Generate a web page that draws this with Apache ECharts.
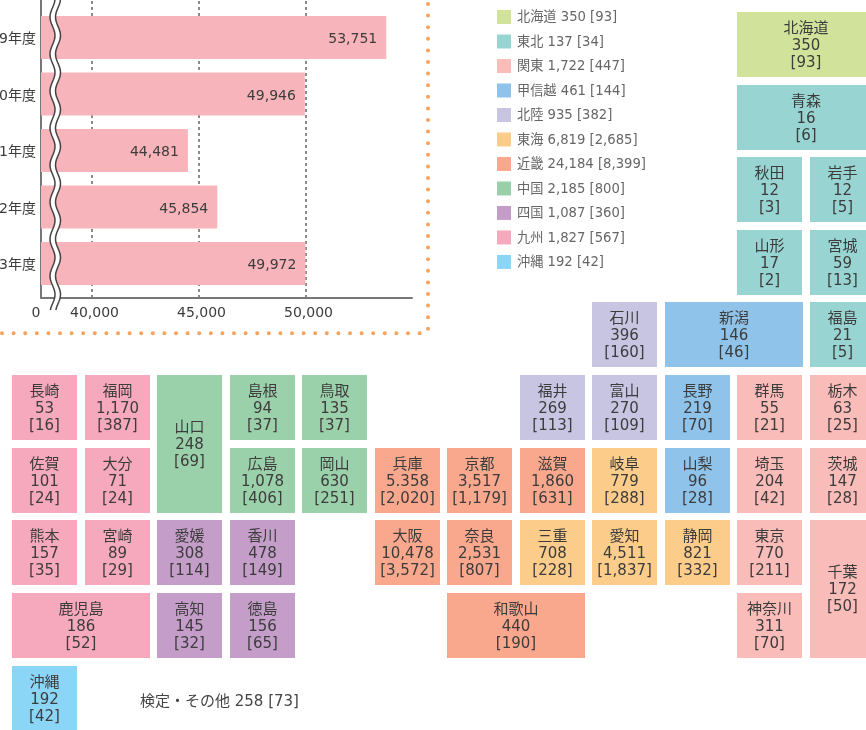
<!DOCTYPE html>
<html lang="ja">
<head>
<meta charset="utf-8">
<script src="https://cdn.jsdelivr.net/npm/echarts@6/dist/echarts.min.js"></script>
<style>html,body{margin:0;padding:0;background:#fff}#c{width:866px;height:730px}</style>
</head>
<body>
<div id="c"></div>
<script>
// ---- data ----
const yearLabels = ['9年度', '0年度', '1年度', '2年度', '3年度'];
const yearValues = [53751, 49946, 44481, 45854, 49972];
const axisTickValues = [40000, 45000, 50000];

const regionNames = ['北海道', '東北', '関東', '甲信越', '北陸', '東海', '近畿', '中国', '四国', '九州', '沖縄'];
const regionTotals = ['350', '137', '1,722', '461', '935', '6,819', '24,184', '2,185', '1,087', '1,827', '192'];
const regionBrackets = ['93', '34', '447', '144', '382', '2,685', '8,399', '800', '360', '567', '42'];

const prefByRegion = {
  '北海道': ['北海道'],
  '東北': ['青森', '秋田', '岩手', '山形', '宮城', '福島'],
  '関東': ['群馬', '栃木', '埼玉', '茨城', '東京', '千葉', '神奈川'],
  '甲信越': ['新潟', '長野', '山梨'],
  '北陸': ['石川', '福井', '富山'],
  '東海': ['岐阜', '三重', '愛知', '静岡'],
  '近畿': ['兵庫', '京都', '滋賀', '大阪', '奈良', '和歌山'],
  '中国': ['山口', '島根', '鳥取', '広島', '岡山'],
  '四国': ['愛媛', '香川', '高知', '徳島'],
  '九州': ['長崎', '福岡', '佐賀', '大分', '熊本', '宮崎', '鹿児島'],
  '沖縄': ['沖縄']
};
const prefTotals = {
  北海道:'350', 青森:'16', 秋田:'12', 岩手:'12', 山形:'17', 宮城:'59', 福島:'21',
  群馬:'55', 栃木:'63', 埼玉:'204', 茨城:'147', 東京:'770', 千葉:'172', 神奈川:'311',
  新潟:'146', 長野:'219', 山梨:'96', 石川:'396', 福井:'269', 富山:'270',
  岐阜:'779', 三重:'708', 愛知:'4,511', 静岡:'821',
  兵庫:'5.358', 京都:'3,517', 滋賀:'1,860', 大阪:'10,478', 奈良:'2,531', 和歌山:'440',
  山口:'248', 島根:'94', 鳥取:'135', 広島:'1,078', 岡山:'630',
  愛媛:'308', 香川:'478', 高知:'145', 徳島:'156',
  長崎:'53', 福岡:'1,170', 佐賀:'101', 大分:'71', 熊本:'157', 宮崎:'89', 鹿児島:'186', 沖縄:'192'
};
const prefBrackets = {
  北海道:'93', 青森:'6', 秋田:'3', 岩手:'5', 山形:'2', 宮城:'13', 福島:'5',
  群馬:'21', 栃木:'25', 埼玉:'42', 茨城:'28', 東京:'211', 千葉:'50', 神奈川:'70',
  新潟:'46', 長野:'70', 山梨:'28', 石川:'160', 福井:'113', 富山:'109',
  岐阜:'288', 三重:'228', 愛知:'1,837', 静岡:'332',
  兵庫:'2,020', 京都:'1,179', 滋賀:'631', 大阪:'3,572', 奈良:'807', 和歌山:'190',
  山口:'69', 島根:'37', 鳥取:'37', 広島:'406', 岡山:'251',
  愛媛:'114', 香川:'149', 高知:'32', 徳島:'65',
  長崎:'16', 福岡:'387', 佐賀:'24', 大分:'24', 熊本:'35', 宮崎:'29', 鹿児島:'52', 沖縄:'42'
};
const otherNote = '検定・その他 258 [73]';

// ---- layout (tile cell: column, row, column span, row span) ----
const tileCells = {
  北海道:[10,0,2,1], 青森:[10,1,2,1], 秋田:[10,2,1,1], 岩手:[11,2,1,1], 山形:[10,3,1,1], 宮城:[11,3,1,1],
  石川:[8,4,1,1], 新潟:[9,4,2,1], 福島:[11,4,1,1],
  長崎:[0,5,1,1], 福岡:[1,5,1,1], 山口:[2,5,1,2], 島根:[3,5,1,1], 鳥取:[4,5,1,1],
  福井:[7,5,1,1], 富山:[8,5,1,1], 長野:[9,5,1,1], 群馬:[10,5,1,1], 栃木:[11,5,1,1],
  佐賀:[0,6,1,1], 大分:[1,6,1,1], 広島:[3,6,1,1], 岡山:[4,6,1,1], 兵庫:[5,6,1,1], 京都:[6,6,1,1],
  滋賀:[7,6,1,1], 岐阜:[8,6,1,1], 山梨:[9,6,1,1], 埼玉:[10,6,1,1], 茨城:[11,6,1,1],
  熊本:[0,7,1,1], 宮崎:[1,7,1,1], 愛媛:[2,7,1,1], 香川:[3,7,1,1], 大阪:[5,7,1,1], 奈良:[6,7,1,1],
  三重:[7,7,1,1], 愛知:[8,7,1,1], 静岡:[9,7,1,1], 東京:[10,7,1,1], 千葉:[11,7,1,2],
  鹿児島:[0,8,2,1], 高知:[2,8,1,1], 徳島:[3,8,1,1], 和歌山:[6,8,2,1], 神奈川:[10,8,1,1],
  沖縄:[0,9,1,1]
};
const regionColors = ['#d1e39b', '#98d5d2', '#f9bcb9', '#90c3ea', '#c8c5e3', '#fccc8a', '#f9a88d', '#9bd1aa', '#c49ec9', '#f6a8bc', '#8bd5f7'];

const FONT = '"DejaVu Sans","Noto Sans CJK JP",sans-serif';
const TEXT = '#3c3c3c';
const colPitch = 72.5, rowPitch = 72.65, tileW = 65, tileH = 65;
// broken axis: the value that sits at the axis origin (labelled 0) and the axis end
const axisFloor = 37617, axisCeil = 54953;

function makeTileRenderer(labels) {
  return function (params, api) {
    const tl = api.coord([api.value(0), api.value(1)]);
    const w = api.value(2) * colPitch - (colPitch - tileW);
    const h = api.value(3) * rowPitch - (rowPitch - tileH);
    return {
      type: 'rect',
      shape: { x: Math.round(tl[0]), y: Math.round(tl[1]), width: Math.round(w), height: Math.round(h) },
      style: { fill: api.visual('color') },
      textContent: {
        style: { text: labels[params.dataIndex], fill: TEXT, font: '15px ' + FONT, lineHeight: 17, align: 'center', verticalAlign: 'middle' }
      },
      textConfig: { position: 'inside', offset: [0, 1.5] }
    };
  };
}

const tileSeries = regionNames.map((r, i) => {
  const prefs = prefByRegion[r];
  return {
    type: 'custom',
    name: r + ' ' + regionTotals[i] + ' [' + regionBrackets[i] + ']',
    xAxisIndex: 2, yAxisIndex: 2,
    clip: false,
    silent: true,
    itemStyle: { color: regionColors[i] },
    encode: { x: 0, y: 1 },
    renderItem: makeTileRenderer(prefs.map(p => p + '\n' + prefTotals[p] + '\n[' + prefBrackets[p] + ']')),
    data: prefs.map(p => tileCells[p])
  };
});

const chart = echarts.init(document.getElementById('c'), null, { renderer: 'canvas' });

// wave decoration marking the axis break
const waveLeft = [], waveRight = [];
for (let y = -4; y <= 310; y += 2) {
  const x = 52.5 - 2.5 * Math.cos(2 * Math.PI * (y - 17) / 37);
  waveLeft.push([x, y]); waveRight.push([x + 5.5, y]);
}
const waveFill = waveLeft.concat(waveRight.slice().reverse());

chart.setOption({
  animation: false,
  textStyle: { fontFamily: FONT },
  grid: [
    { left: 41, top: 9.25, width: 371, height: 282.5, outerBoundsMode: 'none' },
    { left: 41, top: -5, width: 371, height: 303, outerBoundsMode: 'none' },
    { left: 12.2, top: 11.85, width: colPitch * 12, height: rowPitch * 10, outerBoundsMode: 'none' }
  ],
  xAxis: [
    { type: 'value', gridIndex: 0, min: axisFloor, max: axisCeil, show: false, splitLine: { show: false } },
    {
      type: 'value', gridIndex: 1, min: axisFloor, max: axisCeil,
      axisLine: { show: true, onZero: false, lineStyle: { color: '#777', width: 2 } },
      axisTick: { show: false, customValues: axisTickValues },
      splitLine: { show: true, lineStyle: { color: '#666', type: [3, 3], width: 1.5 } },
      axisLabel: {
        margin: 8, hideOverlap: false, showMinLabel: true, alignMinLabel: 'center',
        customValues: [axisFloor].concat(axisTickValues),
        formatter: v => v === axisFloor ? '{z|0}' : '{n|' + echarts.format.addCommas(v) + '}',
        rich: {
          n: { fontSize: 14, color: TEXT, fontFamily: FONT, padding: [0, 0, 0, 5] },
          z: { fontSize: 14, color: TEXT, fontFamily: FONT, padding: [0, 10, 0, 0] }
        }
      }
    },
    { type: 'value', gridIndex: 2, min: 0, max: 12, show: false }
  ],
  yAxis: [
    {
      type: 'category', gridIndex: 0, inverse: true, data: yearLabels,
      axisLine: { show: false }, axisTick: { show: false },
      axisLabel: {
        margin: 5,
        formatter: v => '{y|' + v + '}',
        rich: { y: { fontSize: 14, color: TEXT, fontFamily: FONT, padding: [4, 0, 0, 0] } }
      }
    },
    {
      type: 'value', gridIndex: 1, min: 0, max: 1,
      axisLine: { show: true, lineStyle: { color: '#777', width: 2 } },
      axisTick: { show: false }, axisLabel: { show: false }, splitLine: { show: false }
    },
    { type: 'value', gridIndex: 2, min: 0, max: 10, inverse: true, show: false }
  ],
  legend: {
    left: 497, top: 10,
    orient: 'vertical',
    itemWidth: 14, itemHeight: 14, itemGap: 9.9,
    icon: 'rect',
    padding: 0,
    formatter: n => '{t|' + n + '}',
    textStyle: { rich: { t: { fontSize: 13.2, color: '#666', fontFamily: FONT, padding: [2, 0, 0, 1] } } },
    selectedMode: false,
    data: tileSeries.map(s => s.name)
  },
  series: [
    {
      type: 'bar', xAxisIndex: 0, yAxisIndex: 0,
      data: yearValues, barWidth: 43, silent: true,
      itemStyle: { color: '#f7b4ba' },
      label: {
        show: true, position: 'insideRight', distance: 9, offset: [0, 2],
        fontSize: 14, color: TEXT, fontFamily: FONT,
        formatter: p => echarts.format.addCommas(p.value)
      }
    }
  ].concat(tileSeries),
  graphic: [
    { type: 'polygon', z: 50, shape: { points: waveFill }, style: { fill: '#fff' } },
    { type: 'polyline', z: 51, shape: { points: waveLeft }, style: { stroke: '#444', lineWidth: 1.5, fill: null } },
    { type: 'polyline', z: 51, shape: { points: waveRight }, style: { stroke: '#444', lineWidth: 1.5, fill: null } },
    { type: 'line', z: 5, shape: { x1: 428, y1: 4, x2: 428, y2: 333 }, style: { stroke: '#f7a35c', lineWidth: 4, lineCap: 'round', lineDash: [0, 11.6] } },
    { type: 'line', z: 5, shape: { x1: 2, y1: 333.3, x2: 428, y2: 333.3 }, style: { stroke: '#f7a35c', lineWidth: 4, lineCap: 'round', lineDash: [0, 11.6] } },
    { type: 'text', z: 5, x: 140, y: 695, style: { text: otherNote, fill: '#444', font: '15px ' + FONT } }
  ]
});
</script>
</body>
</html>
